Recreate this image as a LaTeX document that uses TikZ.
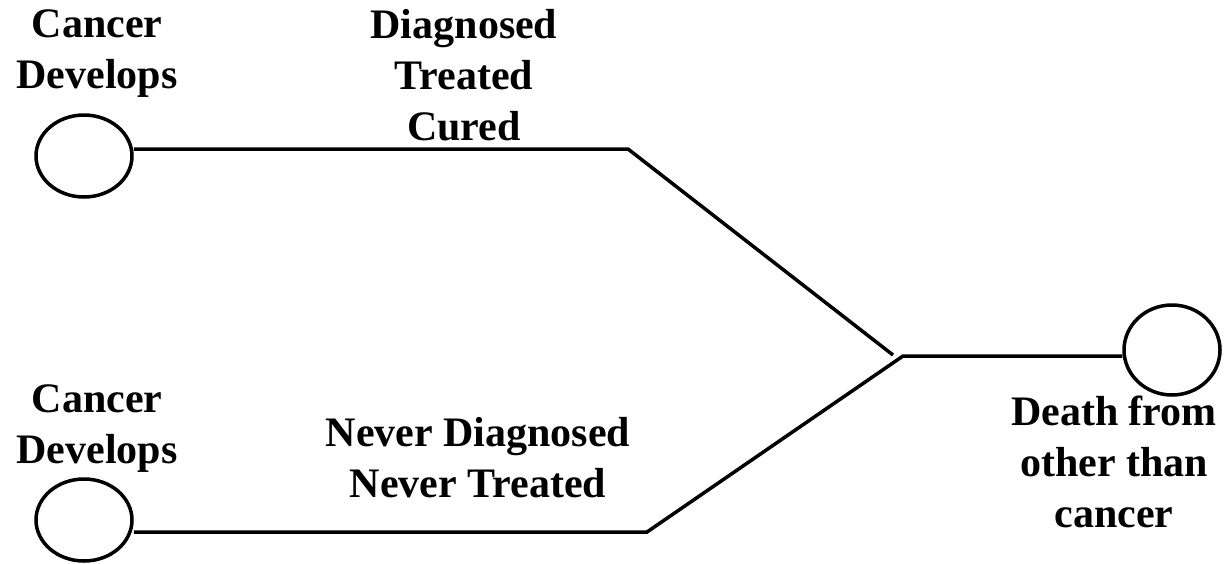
\documentclass[tikz,border=0pt]{standalone}
\usepackage{fontspec}
\setmainfont{Liberation Serif}
\usetikzlibrary{shapes.geometric}
\begin{document}
\begin{tikzpicture}[x=1pt,y=-1pt,
  endpt/.style={ellipse,draw,line width=3.5pt,inner sep=0pt,minimum width=96pt,minimum height=82pt},
  conn/.style={line width=3.5pt},
  lbl/.style={align=center,inner sep=0pt,anchor=base,font=\fontsize{42}{51}\selectfont\bfseries}]
\useasboundingbox (0,0) rectangle (1230,563);
\node[endpt] (e1) at (84,156) {};
\node[endpt] (e2) at (84,520) {};
\node[endpt,minimum height=90pt] (e3) at (1172,350) {};
\coordinate (b1) at (628,149);
\coordinate (j1) at (893,355);
\coordinate (j2) at (903,356);
\coordinate (b2) at (647,532);
\draw[conn] (e1.east |- b1) -- (b1) -- (j1);
\draw[conn] (e2.east |- b2) -- (b2) -- (j2) -- (e3.west |- j2);
\node[lbl] (t1) at (97,88) {Cancer\\Develops};
\node[lbl] (t2) at (464,140) {Diagnosed\\Treated\\Cured};
\node[lbl] (t3) at (97,463) {Cancer\\Develops};
\node[lbl] (t4) at (478,497) {Never Diagnosed\\Never Treated};
\node[lbl] (t5) at (1114,527) {Death from\\other than\\cancer};
\end{tikzpicture}
\end{document}
